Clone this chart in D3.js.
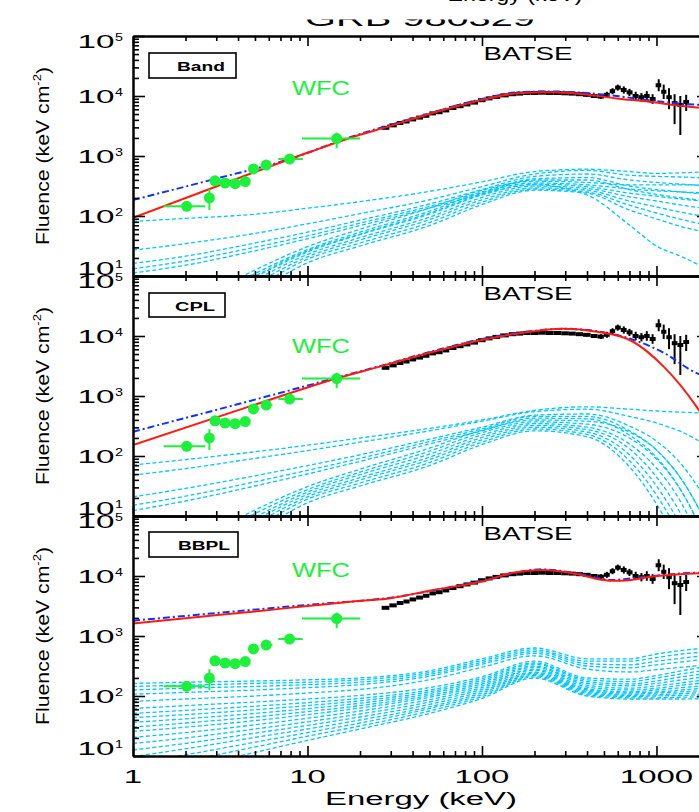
<!DOCTYPE html>
<html><head><meta charset="utf-8">
<script src="https://cdn.jsdelivr.net/npm/d3@7"></script>
<style>body{margin:0;background:#fff;overflow:hidden}text{font-family:"Liberation Sans",Arial,Helvetica,sans-serif}</style>
</head><body>
<svg id="c" width="699" height="812"></svg>
<script>
// ---------------- DATA ----------------
const titleText = "GRB 980329";
const panelNames = ["Band", "CPL", "BBPL"];
const xTickValues = [1, 10, 100, 1000];
const xTickLabels = ["1", "10", "100", "1000"];
const yTickValues = [10, 100, 1000, 10000, 100000];
const yTickExp = ["1", "2", "3", "4", "5"];

// WFC points (keV, keV cm^-2) with error ranges
const wfcE    = [2.03, 2.74, 2.95, 3.37, 3.85, 4.4, 4.9, 5.8, 7.9, 14.7];
const wfcF    = [145, 200, 385, 355, 345, 375, 610, 705, 890, 1950];
const wfcElo  = [1.5, 2.62, 2.8, 3.2, 3.65, 4.2, 4.6, 5.4, 6.8, 9.3];
const wfcEhi  = [2.6, 2.86, 3.15, 3.6, 4.1, 4.65, 5.3, 6.3, 9.4, 20];
const wfcFlo  = [128, 126, 330, 300, 290, 320, 530, 620, 790, 1350];
const wfcFhi  = [163, 280, 450, 415, 405, 440, 700, 800, 1000, 2450];

// BATSE points (shared by the three panels)
const batseE = [28, 31, 34, 37, 40, 44, 48, 52, 57, 62, 68, 75, 82, 90, 100, 110, 120, 135, 150, 165, 180, 200, 220, 245, 270, 300, 330, 360, 400, 440, 480, 520, 560, 600, 650, 700, 760, 820, 880, 950, 1030, 1100, 1180, 1270, 1370, 1480];
const batseF = [2950, 3240, 3550, 3760, 4070, 4370, 4680, 5130, 5370, 5750, 6310, 6760, 7240, 7760, 8510, 9120, 9660, 10230, 10720, 10960, 11220, 11220, 11350, 11220, 11220, 11090, 10960, 10720, 10470, 10000, 9770, 10470, 12020, 13800, 12590, 11480, 10000, 9550, 10000, 8910, 15100, 11750, 9550, 7590, 7080, 7940];
const batseErrLo = [0.02,0.02,0.02,0.02,0.02,0.02,0.02,0.02,0.02,0.02,0.02,0.02,0.02,0.02,0.02,0.02,0.02,0.02,0.02,0.02,0.02,0.02,0.02,0.02,0.02,0.02,0.02,0.02,0.03,0.03,0.04,0.05,0.05,0.05,0.06,0.06,0.07,0.07,0.08,0.08,0.1,0.12,0.2,0.35,0.5,0.15];
const batseErrHi = [0.02,0.02,0.02,0.02,0.02,0.02,0.02,0.02,0.02,0.02,0.02,0.02,0.02,0.02,0.02,0.02,0.02,0.02,0.02,0.02,0.02,0.02,0.02,0.02,0.02,0.02,0.02,0.02,0.03,0.03,0.04,0.05,0.05,0.05,0.06,0.06,0.07,0.07,0.08,0.08,0.1,0.12,0.15,0.15,0.15,0.12];

// best-fit models: [energy keV, fluence]
const redBand  = [[1,93],[3,310],[10,1130],[17.5,2000],[30,3180],[42,4300],[100,8550],[160,11100],[245,11500],[380,10700],[590,9100],[910,8000],[1410,6800],[2000,6100]];
const blueBand = [[1,185],[3,420],[8,900],[17.5,2050],[42,4400],[100,8900],[160,11500],[245,11900],[380,11300],[590,10000],[910,8500],[1410,7400],[2000,7000]];
const redCPL   = [[1,152],[5,718],[15,2000],[26,3090],[50,5250],[98,8500],[188,11750],[292,13200],[457,11750],[708,8500],[1100,3090],[1700,660],[2000,320]];
const blueCPL  = [[1,254],[5,870],[15,2050],[26,3150],[50,5400],[98,8800],[188,12000],[292,13200],[457,12000],[708,9000],[1100,5250],[1700,2400],[2000,2000]];
const redBBPL  = [[1,1620],[2,1980],[5,2570],[10,3160],[20,3860],[30,4270],[50,5700],[100,8100],[150,11300],[220,12600],[300,11700],[365,10500],[450,9000],[560,8300],[700,8500],[880,9500],[1370,10700],[2000,11300]];
const blueBBPL = [[1,1800],[10,3300],[30,4350],[100,8300],[220,12900],[365,10800],[560,8600],[880,9800],[1370,11000],[2000,11500]];

// individual-spectrum models (log10 fluence) sampled at these energies
const energyGrid = [1, 2, 5, 10, 20, 50, 100, 200, 400, 700, 1000, 1400, 2000];
const cyanBand = [
  [1.91,1.96,2.03,2.13,2.24,2.41,2.57,2.74,2.78,2.74,2.71,2.72,2.74],
  [1.43,1.54,1.71,1.87,2.04,2.27,2.49,2.70,2.76,2.68,2.66,2.65,2.63],
  [1.21,1.33,1.55,1.73,1.93,2.20,2.44,2.66,2.70,2.60,2.56,2.53,2.50],
  [1.12,1.25,1.48,1.67,1.88,2.16,2.40,2.62,2.64,2.50,2.44,2.40,2.36],
  [1.05,1.18,1.42,1.62,1.84,2.13,2.37,2.60,2.60,2.44,2.36,2.30,2.25],
  [0.2,0.5,1.1,1.49,1.78,2.13,2.43,2.58,2.56,2.52,2.52,2.52,2.52],
  [0.1,0.42,1.04,1.44,1.73,2.08,2.39,2.55,2.52,2.45,2.42,2.40,2.38],
  [0.0,0.35,0.98,1.40,1.69,2.03,2.35,2.53,2.49,2.38,2.33,2.28,2.24],
  [-0.1,0.28,0.93,1.36,1.64,1.98,2.31,2.50,2.46,2.32,2.25,2.18,2.12],
  [-0.2,0.2,0.87,1.32,1.60,1.94,2.27,2.47,2.43,2.25,2.15,2.06,1.98],
  [-0.3,0.12,0.8,1.28,1.55,1.89,2.23,2.45,2.40,2.18,2.05,1.94,1.84],
  [-0.4,0.05,0.73,1.22,1.50,1.84,2.19,2.43,2.38,2.10,1.95,1.82,1.72],
  [0.05,0.38,1.0,1.42,1.70,2.05,2.36,2.52,2.35,1.85,1.50,1.32,1.10]
];
const cyanCPL = [
  [1.85,1.94,2.07,2.18,2.30,2.46,2.60,2.76,2.82,2.78,2.75,2.73,2.71],
  [1.68,1.79,1.96,2.09,2.23,2.42,2.58,2.74,2.78,2.66,2.55,2.40,2.15],
  [1.32,1.46,1.67,1.84,2.02,2.28,2.48,2.68,2.70,2.50,2.25,1.85,1.2],
  [1.18,1.33,1.57,1.76,1.96,2.24,2.45,2.66,2.66,2.42,2.10,1.60,0.8],
  [1.09,1.25,1.50,1.70,1.91,2.20,2.42,2.63,2.62,2.35,1.98,1.40,0.5],
  [0.2,0.5,1.1,1.49,1.78,2.13,2.43,2.60,2.58,2.40,2.10,1.60,0.8],
  [0.1,0.42,1.04,1.44,1.73,2.08,2.39,2.57,2.53,2.30,1.95,1.40,0.5],
  [0.0,0.35,0.98,1.40,1.69,2.03,2.35,2.54,2.48,2.20,1.80,1.20,0.2],
  [-0.1,0.28,0.93,1.36,1.64,1.98,2.31,2.51,2.44,2.12,1.65,1.00,0.0],
  [-0.2,0.2,0.87,1.32,1.60,1.94,2.27,2.48,2.40,2.02,1.50,0.80,-0.2],
  [-0.3,0.12,0.8,1.28,1.55,1.89,2.23,2.45,2.36,1.92,1.35,0.6,-0.5],
  [-0.4,0.05,0.73,1.22,1.50,1.84,2.19,2.42,2.32,1.82,1.20,0.4,-0.8]
];
const cyanBBPL = [
  [2.21,2.23,2.25,2.27,2.30,2.42,2.62,2.80,2.62,2.62,2.70,2.76,2.80],
  [2.16,2.18,2.21,2.23,2.27,2.39,2.59,2.77,2.58,2.58,2.64,2.70,2.74],
  [2.10,2.13,2.16,2.19,2.23,2.36,2.56,2.74,2.54,2.52,2.58,2.63,2.68],
  [2.03,2.06,2.10,2.14,2.19,2.33,2.53,2.71,2.50,2.47,2.52,2.57,2.62],
  [1.91,1.95,2.00,2.05,2.11,2.27,2.48,2.67,2.45,2.40,2.44,2.48,2.52],
  [1.79,1.84,1.90,1.95,2.01,2.14,2.32,2.58,2.30,2.28,2.34,2.42,2.50],
  [1.71,1.76,1.83,1.89,1.96,2.10,2.29,2.55,2.27,2.24,2.30,2.37,2.44],
  [1.64,1.69,1.77,1.84,1.92,2.07,2.26,2.53,2.24,2.20,2.25,2.32,2.38],
  [1.56,1.62,1.71,1.79,1.88,2.04,2.23,2.50,2.21,2.17,2.21,2.27,2.33],
  [1.48,1.55,1.65,1.74,1.84,2.01,2.20,2.48,2.18,2.13,2.17,2.22,2.28],
  [1.41,1.48,1.59,1.69,1.80,1.98,2.17,2.45,2.15,2.10,2.13,2.18,2.23],
  [1.31,1.39,1.52,1.63,1.75,1.94,2.14,2.43,2.12,2.07,2.10,2.14,2.18],
  [1.21,1.30,1.45,1.57,1.70,1.90,2.11,2.40,2.10,2.05,2.07,2.10,2.14],
  [1.10,1.21,1.38,1.51,1.65,1.86,2.08,2.38,2.08,2.03,2.05,2.07,2.10],
  [0.99,1.12,1.31,1.45,1.60,1.82,2.05,2.36,2.06,2.01,2.02,2.04,2.06],
  [0.88,1.02,1.23,1.39,1.55,1.79,2.02,2.34,2.04,1.99,2.00,2.01,2.03],
  [0.76,0.92,1.15,1.33,1.50,1.75,1.99,2.32,2.02,1.97,1.97,1.98,1.99],
  [0.62,0.80,1.06,1.26,1.45,1.71,1.96,2.30,2.00,1.95,1.95,1.95,1.96]
];

// ---------------- DRAWING ----------------
const panels = [
  {name: panelNames[0], red: redBand, blue: blueBand, cyan: cyanBand, wfcBase: 95, box:[149,53,87,25], boxText:[201,71,48]},
  {name: panelNames[1], red: redCPL,  blue: blueCPL,  cyan: cyanCPL,  wfcBase: 353, box:[149,293,76,24], boxText:[195,311,40]},
  {name: panelNames[2], red: redBBPL, blue: blueBBPL, cyan: cyanBBPL, wfcBase: 577, box:[149,532,89,25], boxText:[204,550,52]}
];
const panelTops = [36, 276, 516];
const PH = 240, X0 = 133, X1 = 709;

const svg = d3.select("#c");
const defs = svg.append("defs");
const x = d3.scaleLog().domain([1, 2000]).range([X0, X1]);

const minorOf = (lo, hi) => { const a=[]; for (let d=lo; d<hi; d*=10) for (let k=2;k<=9;k++) a.push(d*k); return a; };
const xMinor = minorOf(1, 1000).concat([2000]);
const yMinor = minorOf(10, 100000);

const green = "#1cf03a", cyan = "#00c6ff", red = "#ff1a10", blue = "#1030ff";

panels.forEach((p, i) => {
  const top = panelTops[i], bot = top + PH;
  const y = d3.scaleLog().domain([10, 1e5]).range([bot, top]);
  defs.append("clipPath").attr("id", "clip" + i).append("rect")
    .attr("x", X0).attr("y", top).attr("width", X1 - X0).attr("height", PH);
  const plot = svg.append("g").attr("clip-path", `url(#clip${i})`);
  const line = d3.line().x(d => x(d[0])).y(d => y(d[1])).curve(d3.curveMonotoneX);

  // cyan model bundle
  p.cyan.forEach(c => {
    plot.append("path").datum(energyGrid.map((e, k) => [e, Math.pow(10, c[k])]))
      .attr("d", line).attr("fill", "none").attr("stroke", cyan)
      .attr("stroke-width", 1.3).attr("stroke-dasharray", "4,2.5");
  });

  // BATSE data
  const bE = batseE;
  const edges = bE.map((e, k) => {
    const lo = k === 0 ? e / Math.sqrt(bE[1] / bE[0]) : Math.sqrt(e * bE[k - 1]);
    const hi = k === bE.length - 1 ? e * Math.sqrt(e / bE[k - 1]) : Math.sqrt(e * bE[k + 1]);
    return [lo, hi];
  });
  const bg = plot.append("g");
  bE.forEach((e, k) => {
    const f = batseF[k];
    bg.append("line").attr("x1", x(e)).attr("x2", x(e))
      .attr("y1", y(f * Math.pow(10, batseErrHi[k]))).attr("y2", y(f / Math.pow(10, batseErrLo[k])))
      .attr("stroke", "#000").attr("stroke-width", 2);
    bg.append("line").attr("x1", x(edges[k][0])).attr("x2", x(edges[k][1]))
      .attr("y1", y(f)).attr("y2", y(f)).attr("stroke", "#000").attr("stroke-width", 4);
  });

  // model curves
  plot.append("path").datum(p.blue).attr("d", line).attr("fill", "none")
    .attr("stroke", blue).attr("stroke-width", 2).attr("stroke-dasharray", "7,3,2,3");
  plot.append("path").datum(p.red).attr("d", line).attr("fill", "none")
    .attr("stroke", red).attr("stroke-width", 2);

  // WFC data
  const wg = plot.append("g");
  wfcE.forEach((e, k) => {
    wg.append("line").attr("x1", x(wfcElo[k])).attr("x2", x(wfcEhi[k]))
      .attr("y1", y(wfcF[k])).attr("y2", y(wfcF[k])).attr("stroke", green).attr("stroke-width", 2);
    wg.append("line").attr("x1", x(e)).attr("x2", x(e))
      .attr("y1", y(wfcFlo[k])).attr("y2", y(wfcFhi[k])).attr("stroke", green).attr("stroke-width", 2);
    wg.append("circle").attr("cx", x(e)).attr("cy", y(wfcF[k])).attr("r", 5.5).attr("fill", green);
  });

  // axes (ticks inward)
  const ax = svg.append("g").attr("class", "axis");
  ax.append("g").attr("transform", `translate(0,${bot})`).call(d3.axisBottom(x).tickValues(xTickValues).tickSize(-10).tickSizeOuter(0).tickFormat(""));
  ax.append("g").attr("transform", `translate(0,${bot})`).call(d3.axisBottom(x).tickValues(xMinor).tickSize(-5).tickSizeOuter(0).tickFormat(""));
  ax.append("g").attr("transform", `translate(0,${top})`).call(d3.axisTop(x).tickValues(xTickValues).tickSize(-10).tickSizeOuter(0).tickFormat(""));
  ax.append("g").attr("transform", `translate(0,${top})`).call(d3.axisTop(x).tickValues(xMinor).tickSize(-5).tickSizeOuter(0).tickFormat(""));
  ax.append("g").attr("transform", `translate(${X0},0)`).call(d3.axisLeft(y).tickValues(yTickValues).tickSize(-12).tickSizeOuter(0).tickFormat(""));
  ax.append("g").attr("transform", `translate(${X0},0)`).call(d3.axisLeft(y).tickValues(yMinor).tickSize(-6).tickSizeOuter(0).tickFormat(""));
  ax.append("g").attr("transform", `translate(${X1},0)`).call(d3.axisRight(y).tickValues(yTickValues).tickSize(-12).tickSizeOuter(0).tickFormat(""));
  ax.append("g").attr("transform", `translate(${X1},0)`).call(d3.axisRight(y).tickValues(yMinor).tickSize(-6).tickSizeOuter(0).tickFormat(""));
  ax.selectAll("path.domain").attr("stroke", "#000").attr("stroke-width", 2);
  ax.selectAll(".tick line").attr("stroke", "#000").attr("stroke-width", 1.6);

  // y tick labels
  yTickValues.forEach((v, k) => {
    const ty = y(v);
    const off = k === 0 ? -1 : (k === yTickValues.length - 1 ? 12 : 7);
    svg.append("text").attr("x", 96).attr("y", ty + off).attr("text-anchor", "middle")
      .attr("font-size", 18).attr("textLength", 37).attr("lengthAdjust", "spacingAndGlyphs").text("10");
    svg.append("text").attr("x", 115).attr("y", ty + off - 7).attr("font-size", 11)
      .attr("textLength", 8).attr("lengthAdjust", "spacingAndGlyphs").text(yTickExp[k]);
  });

  // y title
  const yt = svg.append("text").attr("transform", `translate(49,${top + PH / 2}) rotate(-90)`)
    .attr("text-anchor", "middle").attr("font-size", 18).attr("textLength", 178).attr("lengthAdjust", "spacingAndGlyphs");
  yt.append("tspan").text("Fluence (keV cm");
  yt.append("tspan").attr("dy", -8).attr("font-size", 11).text("-2");
  yt.append("tspan").attr("dy", 8).text(")");

  // model name box
  svg.append("rect").attr("x", p.box[0]).attr("y", p.box[1]).attr("width", p.box[2]).attr("height", p.box[3])
    .attr("fill", "#fff").attr("stroke", "#000").attr("stroke-width", 1.6);
  svg.append("text").attr("x", p.boxText[0]).attr("y", p.boxText[1]).attr("text-anchor", "middle")
    .attr("font-size", 13).attr("font-weight", "bold").attr("textLength", p.boxText[2])
    .attr("lengthAdjust", "spacingAndGlyphs").text(p.name);

  // instrument labels
  svg.append("text").attr("x", 528).attr("y", top + 24).attr("text-anchor", "middle")
    .attr("font-size", 18).attr("textLength", 89).attr("lengthAdjust", "spacingAndGlyphs").text("BATSE");
  svg.append("text").attr("x", 321).attr("y", p.wfcBase).attr("text-anchor", "middle").attr("fill", green)
    .attr("font-size", 20).attr("textLength", 58).attr("lengthAdjust", "spacingAndGlyphs").text("WFC");
});

// x tick labels (bottom panel only)
xTickValues.forEach((v, k) => {
  svg.append("text").attr("x", x(v)).attr("y", 783).attr("text-anchor", "middle").attr("font-size", 18)
    .attr("textLength", 18.3 * xTickLabels[k].length).attr("lengthAdjust", "spacingAndGlyphs").text(xTickLabels[k]);
});
svg.append("text").attr("x", 421).attr("y", 805).attr("text-anchor", "middle").attr("font-size", 18)
  .attr("textLength", 192).attr("lengthAdjust", "spacingAndGlyphs").text("Energy (keV)");

// partly hidden title and the caption remnant above it
defs.append("clipPath").attr("id", "titleClip").append("rect").attr("x", 0).attr("y", 19.5).attr("width", 699).attr("height", 10);
svg.append("text").attr("x", 420).attr("y", 26).attr("text-anchor", "middle").attr("font-size", 22)
  .attr("textLength", 230).attr("lengthAdjust", "spacingAndGlyphs").attr("clip-path", "url(#titleClip)").text(titleText);
svg.append("text").attr("x", 515).attr("y", 1).attr("text-anchor", "middle").attr("font-size", 18)
  .attr("textLength", 135).attr("lengthAdjust", "spacingAndGlyphs").text("Energy (keV)");
</script>
</body></html>
